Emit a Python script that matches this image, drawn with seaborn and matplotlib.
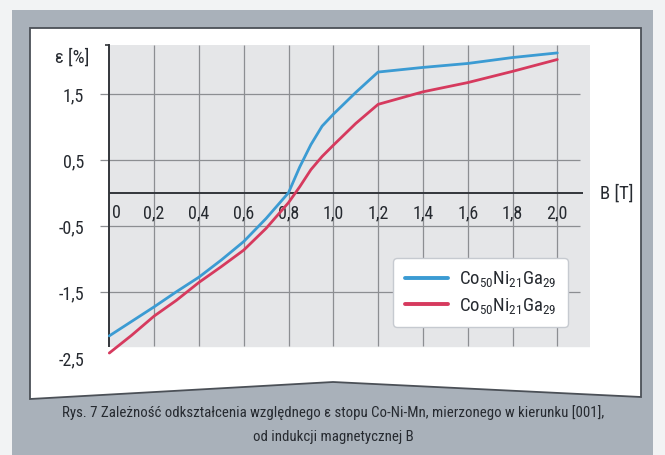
import numpy as np
import pandas as pd
import seaborn as sns
import matplotlib
matplotlib.use('Agg')
import matplotlib.pyplot as plt
from matplotlib.patches import Rectangle, Polygon

# ---- data ----
B_T = [0.0, 0.1, 0.2, 0.3, 0.4, 0.5, 0.6, 0.7, 0.8, 0.85, 0.9, 0.95, 1.0, 1.1, 1.2, 1.4, 1.6, 1.8, 2.0]
eps_blue = [-2.16, -1.94, -1.72, -1.49, -1.27, -1.01, -0.73, -0.38, 0.01, 0.40, 0.74, 1.02, 1.20, 1.53, 1.84, 1.91, 1.97, 2.06, 2.13]
eps_red = [-2.42, -2.15, -1.86, -1.62, -1.35, -1.11, -0.86, -0.53, -0.14, 0.10, 0.36, 0.56, 0.73, 1.06, 1.35, 1.54, 1.68, 1.85, 2.03]
series_labels = [r'Co$_{50}$Ni$_{21}$Ga$_{29}$', r'Co$_{50}$Ni$_{21}$Ga$_{29}$']
series_colors = ['#3b9bd3', '#d63a5e']
x_ticks = [0.0, 0.2, 0.4, 0.6, 0.8, 1.0, 1.2, 1.4, 1.6, 1.8, 2.0]
x_tick_labels = ['0', '0,2', '0,4', '0,6', '0,8', '1,0', '1,2', '1,4', '1,6', '1,8', '2,0']
y_ticks = [1.5, 0.5, -0.5, -1.5, -2.5]
y_tick_labels = ['1,5', '0,5', '-0,5', '-1,5', '-2,5']
x_label = 'B [T]'
y_label = 'ε [%]'
caption = ['Rys. 7 Zależność odkształcenia względnego ε stopu Co-Ni-Mn, mierzonego w kierunku [001],',
           'od indukcji magnetycznej B']

sns.set_theme(style='white')
FONT = ['Roboto Condensed', 'Liberation Sans Narrow', 'Roboto', 'DejaVu Sans']
plt.rcParams['font.family'] = FONT
plt.rcParams['mathtext.default'] = 'regular'
TXT = '#262a30'
FS = 13

fig = plt.figure(figsize=(6.65, 4.55), dpi=100)
fig.patch.set_facecolor('#f2f3f4')

# frame (figure-pixel coordinates)
bg = fig.add_axes([0, 0, 1, 1], zorder=-10)
bg.set_xlim(0, 665)
bg.set_ylim(455, 0)
bg.axis('off')
bg.add_patch(Rectangle((12, 10), 641, 445, facecolor='#a9b1ba', edgecolor='none'))
bg.add_patch(Polygon([(30, 28), (641, 28), (641, 397), (333, 382), (30, 399)], closed=True,
                     facecolor='white', edgecolor='#4b5057', lw=1.3))
cap1 = bg.text(333, 413, caption[0], ha='center', va='center', fontsize=12, color=TXT)
cap2 = bg.text(333, 437, caption[1], ha='center', va='center', fontsize=12, color=TXT)

# fit caption width to the reference (~541 px)
fig.canvas.draw()
w = cap1.get_window_extent().width
fs = min(13.5, 12 * 541.0 / w)
cap1.set_fontsize(fs)
cap2.set_fontsize(fs)

# main axes
ax = fig.add_axes([109.3 / 665, 1 - 364.9 / 455, 480.7 / 665, 319.9 / 455])
ax.set_facecolor('none')
ax.set_xlim(0, 480.7 / 224)
ax.set_ylim(-2.6, 2.25)
y_bottom, y_top = -2.32, 2.25

ax.axhspan(y_bottom, y_top, color='#e5e6e8', zorder=0)
ax.vlines(x_ticks[1:], y_bottom, y_top, color='#8c8e92', lw=0.9, zorder=1)
ax.hlines([t for t in y_ticks if t > y_bottom], -0.042, 2.10, color='#8c8e92', lw=0.9,
          zorder=1, clip_on=False)
ax.hlines(0, 0, 2.115, color='#33363b', lw=1.4, zorder=2)
ax.hlines(y_top, -0.02, 0, color='#33363b', lw=1.2, zorder=2, clip_on=False)

for s in ['top', 'right', 'bottom']:
    ax.spines[s].set_visible(False)
ax.spines['left'].set_bounds(y_bottom, y_top)
ax.spines['left'].set_color('#33363b')
ax.spines['left'].set_linewidth(1.4)
ax.spines['left'].set_zorder(2)

ax.set_yticks(y_ticks, y_tick_labels)
ax.tick_params(axis='y', length=0, pad=18, labelsize=FS, labelcolor=TXT)
ax.set_xticks(x_ticks)
ax.tick_params(axis='x', length=0, labelbottom=False)
ax.grid(False)

for b, lab in zip(x_ticks, x_tick_labels):
    ax.text(b + (0.03 if b == 0 else 0), -0.3, lab, ha='center', va='center',
            fontsize=FS, color=TXT, zorder=3)
ax.text(2.267, 0.0, x_label, ha='center', va='center', fontsize=13.5, color=TXT, clip_on=False)
ax.text(-0.09, 2.065, y_label, ha='right', va='center', fontsize=13.5, color=TXT, clip_on=False)

sns.lineplot(x=B_T, y=eps_blue, ax=ax, color=series_colors[0], lw=2.0,
             label=series_labels[0], clip_on=False, zorder=4)
sns.lineplot(x=B_T, y=eps_red, ax=ax, color=series_colors[1], lw=2.0,
             label=series_labels[1], clip_on=False, zorder=4)

leg = ax.legend(loc='lower right', bbox_to_anchor=(0.954, 0.118), borderaxespad=0,
                fontsize=13.5, handlelength=2.3, handletextpad=0.6, labelspacing=0.35,
                borderpad=0.6, frameon=True, fancybox=True, framealpha=1,
                edgecolor='#c6cad0', facecolor='white')
for h in leg.get_lines():
    h.set_linewidth(2.8)
for t in leg.get_texts():
    t.set_color(TXT)

fig.savefig('out.png', dpi=100, facecolor=fig.get_facecolor())
